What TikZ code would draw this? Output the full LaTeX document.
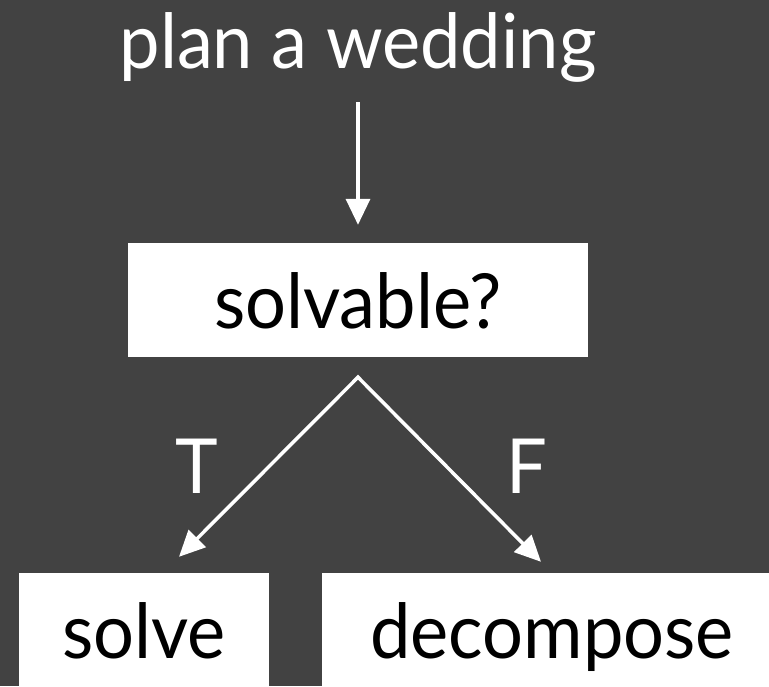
\documentclass[tikz,border=0pt]{standalone}
\usepackage{fontspec}
\setmainfont{Lato}[FakeStretch=0.95]
\usetikzlibrary{arrows.meta,calc}
\definecolor{slate}{HTML}{424242}
\begin{document}
\begin{tikzpicture}[x=1pt,y=-1pt,
  bigfont/.style={font=\fontsize{76}{90}\selectfont},
  box/.style={fill=white, text=black, inner sep=0pt, minimum height=114pt,
              text height=56pt, text depth=0pt, bigfont},
  lbl/.style={text=white, inner sep=0pt, bigfont},
  arr/.style={draw=white, line width=3.5pt, line join=miter,
              -{Triangle[width=24pt,length=26pt]}},
  twoarr/.style={draw=white, line width=3.5pt, line join=miter,
              {Triangle[width=24pt,length=26pt]}-{Triangle[width=24pt,length=26pt]}}]
% page and background
\clip (0,0) rectangle (769,686);
\fill[slate] (0,0) rectangle (769,686);

% texts and boxes
\node[lbl, anchor=base] (title) at (358,68) {plan a wedding};
\node[box, minimum width=460pt] (solv) at (358,300) {solvable?};
\node[box, minimum width=250pt] (solve) at (144,630) {solve};
\node[box, minimum width=460pt] (decomp) at (552,630) {decompose};
\node[lbl] (T) at (197,466) {T};
\node[lbl] (F) at (527,466) {F};

% connector ends
\coordinate (start) at ($(title.base)+(0,34)$);
\coordinate (fork) at ($(solv.south)+(0,20)$);
\coordinate (tipT) at ($(solve.north)+(35,-16)$);
\coordinate (tipF) at ($(decomp.north)+(-11,-11)$);

% connectors
\draw[arr, shorten >=18pt] (start) -- (solv.north);
\draw[twoarr] (tipT) -- (fork) -- (tipF);
\end{tikzpicture}
\end{document}
